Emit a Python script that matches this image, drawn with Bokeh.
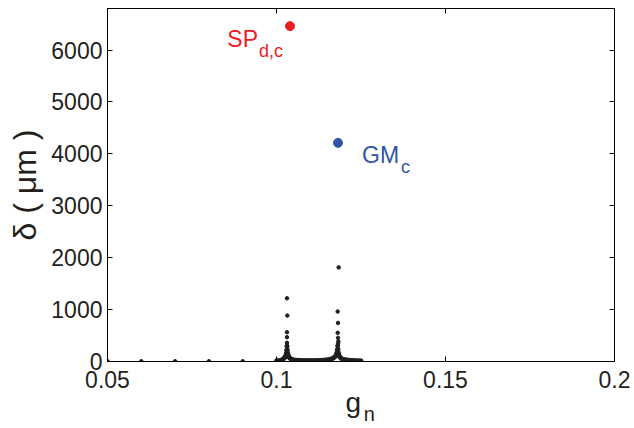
from bokeh.plotting import figure
from bokeh.models import Label, LinearAxis, FixedTicker, Range1d
from bokeh.embed import file_html
from bokeh.resources import INLINE

# ---- data ----
x_ticks = [0.05, 0.1, 0.15, 0.2]
x_tick_labels = ["0.05", "0.1", "0.15", "0.2"]
y_ticks = [0, 1000, 2000, 3000, 4000, 5000, 6000]
y_tick_labels = ["0", "1000", "2000", "3000", "4000", "5000", "6000"]

iso_x = [0.05, 0.06, 0.07, 0.08, 0.09]
iso_y = [5, 5, 5, 5, 5]

band_x = [0.1000, 0.1005, 0.1010, 0.1015, 0.1018,
          0.1021, 0.1023, 0.1025, 0.1027, 0.1028, 0.1029, 0.1030, 0.1031,
          0.1032, 0.1033, 0.1034, 0.1035, 0.1037, 0.1039, 0.1042, 0.1045,
          0.1050, 0.1055, 0.1060, 0.1065, 0.1070, 0.1075, 0.1080, 0.1085,
          0.1090, 0.1095, 0.1100, 0.1105, 0.1110, 0.1115, 0.1120, 0.1125,
          0.1130, 0.1135, 0.1140, 0.1145, 0.1150, 0.1155, 0.1160,
          0.1164, 0.1168, 0.1171, 0.1174, 0.1176, 0.1178, 0.1179, 0.1180, 0.1181,
          0.1182, 0.1183, 0.1184, 0.1186, 0.1188, 0.1191, 0.1195, 0.1200,
          0.1205, 0.1210, 0.1215, 0.1220, 0.1225, 0.1230, 0.1235, 0.1240,
          0.1245, 0.1250]
band_y = [14, 16, 20, 28, 38,
          52, 66, 82, 105, 125, 160, 215, 290,
          225, 170, 135, 110, 85, 68, 52, 40,
          32, 27, 24, 22, 20, 19, 18, 18,
          17, 17, 17, 17, 18, 18, 19, 20,
          22, 24, 26, 29, 33, 38, 45,
          54, 66, 80, 100, 120, 150, 175, 230, 300,
          235, 175, 135, 100, 80, 62, 48, 38,
          32, 28, 24, 22, 20, 18, 16, 15,
          14, 13]

peak_x = [0.1031, 0.1031, 0.1031, 0.1031, 0.1032, 0.1031,
          0.1182, 0.1183, 0.1182, 0.1181, 0.1182, 0.1181, 0.1184]
peak_y = [308, 360, 467, 563, 885, 1217,
          340, 385, 455, 552, 744, 962, 1813]

sp_x = [0.1040]
sp_y = [6460]
gm_x = [0.1182]
gm_y = [4212]

# ---- styling ----
FONT = "Liberation Sans"
TXT = "#231f20"
RED = "#ed1c24"
BLUE = "#2f55a4"
NB = "\u00a0"

p = figure(width=634, height=428, output_backend="svg", toolbar_location=None,
           x_range=Range1d(0.05, 0.2), y_range=Range1d(0, 6800),
           min_border_left=107, min_border_right=20, min_border_top=8,
           min_border_bottom=67)
p.grid.visible = False
p.outline_line_color = "black"
p.outline_line_width = 1
p.background_fill_color = "white"
p.border_fill_color = "white"

for ax, ticks, labels in ((p.xaxis[0], x_ticks, x_tick_labels),
                          (p.yaxis[0], y_ticks, y_tick_labels)):
    ax.ticker = FixedTicker(ticks=ticks)
    ax.major_label_overrides = {t: l for t, l in zip(ticks, labels)}
    ax.major_tick_in = 5
    ax.major_tick_out = 0
    ax.minor_tick_line_color = None
    ax.axis_line_color = "black"
    ax.major_tick_line_color = "black"
    ax.major_label_text_font = FONT
    ax.major_label_text_font_size = "23px"
    ax.major_label_text_color = TXT
    ax.axis_label_text_font = FONT
    ax.axis_label_text_font_style = "normal"
    ax.axis_label_text_color = TXT

p.xaxis[0].major_label_standoff = 9
p.yaxis[0].major_label_standoff = 5

# y title
p.yaxis[0].axis_label = "δ ( μm )"
p.yaxis[0].axis_label_text_font_size = "32px"
p.yaxis[0].axis_label_standoff = 5

# x title "g" with subscript "n" on a bare second axis
p.xaxis[0].axis_label = "g" + NB + NB
p.xaxis[0].axis_label_text_font_size = "28px"
p.xaxis[0].axis_label_standoff = -4

sub = LinearAxis(ticker=FixedTicker(ticks=[]), major_tick_in=0, major_tick_out=0,
                 minor_tick_line_color=None, axis_line_color=None,
                 major_label_standoff=0,
                 axis_label=NB * 3 + "n", axis_label_text_font=FONT,
                 axis_label_text_font_size="20px", axis_label_text_font_style="normal",
                 axis_label_text_color=TXT, axis_label_standoff=-18)
p.add_layout(sub, "below")

empty_x = {t: "" for t in x_ticks}
empty_y = {t: "" for t in y_ticks}
top = LinearAxis(ticker=FixedTicker(ticks=x_ticks), major_tick_in=5, major_tick_out=0,
                 minor_tick_line_color=None, major_label_overrides=empty_x,
                 major_label_standoff=0, axis_line_color="black")
right = LinearAxis(ticker=FixedTicker(ticks=y_ticks), major_tick_in=5, major_tick_out=0,
                   minor_tick_line_color=None, major_label_overrides=empty_y,
                   major_label_standoff=0, axis_line_color="black")
p.add_layout(top, "above")
p.add_layout(right, "right")

# ---- data marks ----
p.scatter(iso_x, iso_y, size=3.5, color=TXT)
p.scatter(band_x, band_y, size=4, color=TXT)
p.scatter(peak_x, peak_y, size=3.5, color=TXT)
p.scatter(sp_x, sp_y, size=9, color=RED)
p.scatter(gm_x, gm_y, size=9, color=BLUE)

# ---- point annotations ----
def lab(x, y, text, size, color, xo=0, yo=0, align="left"):
    p.add_layout(Label(x=x, y=y, text=text, text_font=FONT, text_font_size=size,
                       text_color=color, x_offset=xo, y_offset=yo, text_align=align,
                       text_baseline="alphabetic"))

lab(sp_x[0], sp_y[0], "SP", "23px", RED, xo=-32, yo=-13, align="right")
lab(sp_x[0], sp_y[0], "d,c", "18px", RED, xo=-31, yo=-25)
lab(gm_x[0], gm_y[0], "GM", "23px", BLUE, xo=24, yo=-12)
lab(gm_x[0], gm_y[0], "c", "18px", BLUE, xo=63, yo=-24)

open("out.html", "w").write(file_html(p, INLINE))
